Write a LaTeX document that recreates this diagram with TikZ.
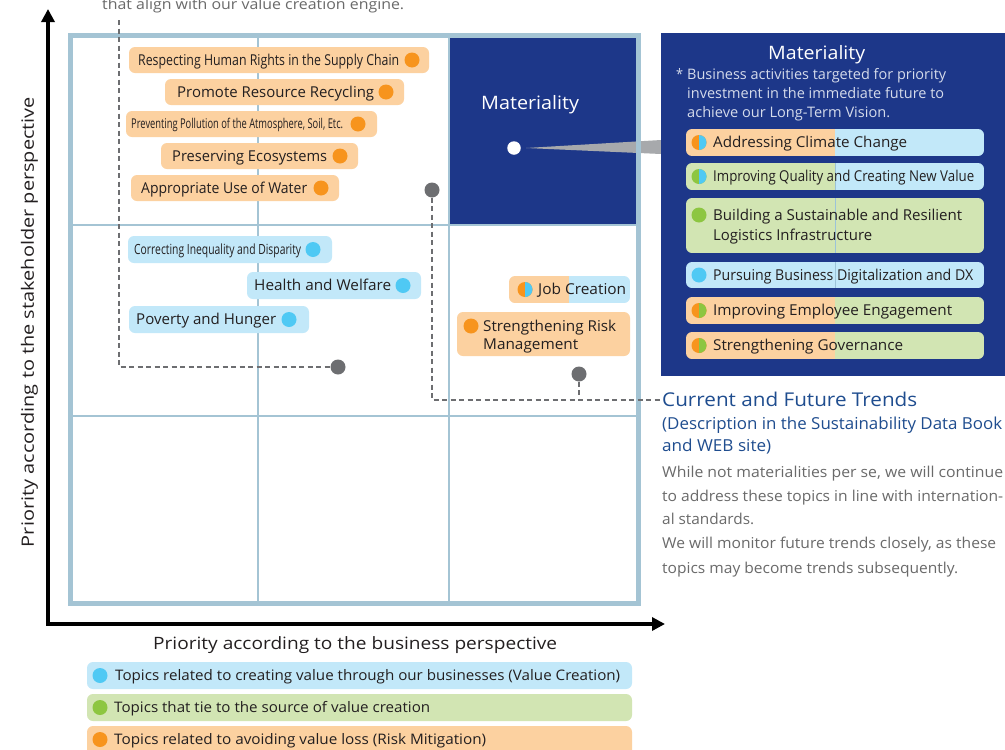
\documentclass[tikz,border=0pt]{standalone}
\usepackage{fontspec}
\setmainfont{Open Sans}
\usepackage{graphicx}
\usetikzlibrary{arrows.meta}
\definecolor{navy}{HTML}{1D3789}
\definecolor{gridc}{HTML}{A4C4D4}
\definecolor{ofill}{HTML}{FCD1A0}
\definecolor{odot}{HTML}{F7941D}
\definecolor{bfill}{HTML}{C2E8F9}
\definecolor{bdot}{HTML}{4FC9F4}
\definecolor{gfill}{HTML}{D2E5B3}
\definecolor{gdot}{HTML}{8DC641}
\definecolor{dgray}{HTML}{6D6E71}
\definecolor{callg}{HTML}{A7A9AC}
\definecolor{txt}{HTML}{231F20}
\definecolor{notec}{HTML}{D5DBEB}
\definecolor{trendc}{HTML}{1F4D8F}
\definecolor{bodyc}{HTML}{6A6A6A}
\definecolor{splitc}{HTML}{9CC3D8}
\newcommand\fw[2]{\resizebox{#1pt}{\height}{#2}}
\newcommand\fs[1]{\fontsize{#1}{#1}\selectfont}
\newcommand\pillbg[5]{\fill[#5, rounded corners=6pt] (#1,#2) rectangle (#3,#4);}
\newcommand\spill[7]{\begin{scope}\clip[rounded corners=6pt] (#1,#2) rectangle (#3,#4);\fill[#6] (#1,#2) rectangle (#5,#4);\fill[#7] (#5,#2) rectangle (#3,#4);\end{scope}}
\newcommand\hdot[4]{\fill[#3] (#1,#2) circle (7.5pt);\begin{scope}\clip (#1,#2-9) rectangle (#1+9,#2+9);\fill[#4] (#1,#2) circle (7.5pt);\end{scope}}
\newcommand\fdot[3]{\fill[#3] (#1,#2) circle (7.5pt);}
\newcommand\tx[7]{\node[anchor=base west, inner sep=0pt, font=\fs{#5}, #1] (#2) at ({#3},{#4+0.357*#5}) {\fw{#6}{#7}};}
\begin{document}
\begin{tikzpicture}[x=1pt,y=-1pt,
  dline/.style={draw=dgray, line width=1.3pt, dash pattern=on 5pt off 3.5pt},
  graydot/.style={circle, fill=dgray, minimum size=15pt, inner sep=0pt},
  gridline/.style={draw=gridc, line width=2.5pt},
  axisline/.style={line width=3.5pt, line join=miter, {Triangle[length=13pt,width=13pt]}-{Triangle[length=13pt,width=13pt]}}]
\useasboundingbox (0,0) rectangle (1005,750);
\clip (0,0) rectangle (1005,750);
\fill[white] (0,0) rectangle (1005,750);

% top cut text
\node[anchor=base west, inner sep=0pt, font=\fs{14.5}, text=bodyc] (toptext) at (102,9) {\fw{302}{that align with our value creation engine.}};

% materiality cell
\fill[navy] (449,35.5) rectangle (638.5,225);
\fill[callg] (526,148) -- (661,140) -- (661,154) -- cycle;
\tx{text=white}{mcell}{481}{103}{18.5}{98}{Materiality}
\node[circle, fill=white, minimum size=13.5pt, inner sep=0pt] (wd) at (514,148) {};

% grid
\draw[draw=gridc, line width=5pt] (70.5,35.5) rectangle (638.5,603.5);
\draw[gridline] (258,35.5) -- (258,603.5);
\draw[gridline] (449,35.5) -- (449,603.5);
\draw[gridline] (70.5,225) -- (638.5,225);
\draw[gridline] (70.5,416) -- (638.5,416);

% axes
\coordinate (Ytop) at (48,9);
\coordinate (O) at (48,624);
\coordinate (Xend) at (665,624);
\draw[axisline] (Ytop) -- (O) -- (Xend);
\node[rotate=90, inner sep=0pt, font=\fs{17}, text=txt, text height=12pt, text depth=0pt] (ylab) at (28,322) {\fw{450}{Priority according to the stakeholder perspective}};
\node[anchor=base west, inner sep=0pt, font=\fs{17}, text=txt] (xlab) at (153,{643+0.357*17}) {\fw{404}{Priority according to the business perspective}};

% orange pills
\pillbg{129}{47}{429}{73}{ofill}
\tx{text=txt}{p1}{138}{60}{15}{261}{Respecting Human Rights in the Supply Chain}
\fdot{412}{60}{odot}
\pillbg{165}{79}{404}{105}{ofill}
\tx{text=txt}{p2}{177}{92}{15}{197}{Promote Resource Recycling}
\fdot{386}{92}{odot}
\pillbg{126}{111}{377}{137}{ofill}
\tx{text=txt}{p3}{131}{124}{13.5}{212}{Preventing Pollution of the Atmosphere, Soil, Etc.}
\fdot{358}{124}{odot}
\pillbg{161}{143}{358}{169}{ofill}
\tx{text=txt}{p4}{172}{156}{15}{155}{Preserving Ecosystems}
\fdot{340}{156}{odot}
\pillbg{131}{175}{339}{201}{ofill}
\tx{text=txt}{p5}{141}{188}{15}{166}{Appropriate Use of Water}
\fdot{321}{188}{odot}

% blue pills
\pillbg{128}{236}{332}{263}{bfill}
\tx{text=txt}{b1}{134}{249.5}{14}{167}{Correcting Inequality and Disparity}
\fdot{313}{249.5}{bdot}
\pillbg{247}{272}{421}{299}{bfill}
\tx{text=txt}{b2}{254}{285.5}{15}{137}{Health and Welfare}
\fdot{403}{285.5}{bdot}
\pillbg{129}{306}{309}{333}{bfill}
\tx{text=txt}{b3}{136}{319.5}{15}{140}{Poverty and Hunger}
\fdot{289}{319.5}{bdot}

% right cell pills
\spill{509}{276}{630}{303}{569}{ofill}{bfill}
\hdot{525}{289.5}{odot}{bdot}
\tx{text=txt}{job}{538}{289.5}{15}{88}{Job Creation}
\pillbg{457}{312}{630}{356}{ofill}
\fdot{471}{326}{odot}
\tx{text=txt}{risk1}{483}{326}{15}{133}{Strengthening Risk}
\tx{text=txt}{risk2}{483}{344}{15}{95}{Management}

% dashed connectors
\node[graydot] (g1) at (338,367) {};
\node[graydot] (g2) at (432,190) {};
\node[graydot] (g3) at (579,374) {};
\coordinate (lt) at (119,20);
\coordinate (tr) at (660,400);
\draw[dline] (lt) |- (g1);
\draw[dline] (g2) |- (tr);
\draw[dline] (g3) -- (g3 |- tr);

% right panel
\fill[navy] (661,33) rectangle (1005,376);
\tx{text=white}{mtitle}{768}{53}{18.5}{97}{Materiality}
\tx{text=notec}{star}{676}{74}{14.5}{7}{*}
\tx{text=notec}{n1}{687}{74}{14.5}{259}{Business activities targeted for priority}
\tx{text=notec}{n2}{687}{93}{14.5}{257}{investment in the immediate future to}
\tx{text=notec}{n3}{687}{112}{14.5}{203}{achieve our Long-Term Vision.}

\spill{686}{129}{984}{156}{835}{ofill}{bfill}
\hdot{699}{142.5}{odot}{bdot}
\tx{text=txt}{m1}{713}{142.5}{15}{194}{Addressing Climate Change}

\spill{686}{163}{984}{190}{835}{gfill}{bfill}
\draw[splitc, line width=0.6pt] (835,163) -- (835,190);
\hdot{699}{176.5}{gdot}{bdot}
\tx{text=txt}{m2}{713}{176.5}{15}{261}{Improving Quality and Creating New Value}

\spill{686}{198}{984}{253}{835}{gfill}{gfill}
\draw[splitc, line width=0.6pt] (835,198) -- (835,253);
\fdot{699}{215}{gdot}
\tx{text=txt}{m3a}{713}{215}{15}{249}{Building a Sustainable and Resilient}
\tx{text=txt}{m3b}{713}{235}{15}{159}{Logistics Infrastructure}

\spill{686}{262}{984}{288}{835}{bfill}{bfill}
\draw[splitc, line width=0.6pt] (835,262) -- (835,288);
\fdot{699}{275}{bdot}
\tx{text=txt}{m4}{713}{275}{15}{260}{Pursuing Business Digitalization and DX}

\spill{686}{297}{984}{324}{835}{ofill}{gfill}
\hdot{699}{310.5}{odot}{gdot}
\tx{text=txt}{m5}{713}{310.5}{15}{239}{Improving Employee Engagement}

\spill{686}{332}{984}{359}{835}{ofill}{gfill}
\hdot{699}{345.5}{odot}{gdot}
\tx{text=txt}{m6}{713}{345.5}{15}{190}{Strengthening Governance}

% trends text
\tx{text=trendc}{tr1}{662}{400}{19}{255}{Current and Future Trends}
\tx{text=trendc}{tr2}{662}{424}{16.5}{340}{(Description in the Sustainability Data Book}
\tx{text=trendc}{tr3}{662}{446}{16.5}{109}{and WEB site)}
\tx{text=bodyc}{bd1}{662}{472}{15}{341}{While not materialities per se, we will continue}
\tx{text=bodyc}{bd2}{662}{496}{15}{341}{to address these topics in line with internation-}
\tx{text=bodyc}{bd3}{662}{519}{15}{92}{al standards.}
\tx{text=bodyc}{bd4}{662}{543}{15}{334}{We will monitor future trends closely, as these}
\tx{text=bodyc}{bd5}{662}{568}{15}{296}{topics may become trends subsequently.}

% legend
\pillbg{87}{662}{632}{689}{bfill}
\fdot{100}{675.5}{bdot}
\tx{text=txt}{l1}{115}{675.5}{14.5}{505}{Topics related to creating value through our businesses (Value Creation)}
\pillbg{87}{694}{632}{721}{gfill}
\fdot{100}{707.5}{gdot}
\tx{text=txt}{l2}{114}{707.5}{14.5}{316}{Topics that tie to the source of value creation}
\pillbg{87}{726}{632}{756}{ofill}
\fdot{100}{739.5}{odot}
\tx{text=txt}{l3}{114}{739.5}{14.5}{372}{Topics related to avoiding value loss (Risk Mitigation)}
\end{tikzpicture}
\end{document}
